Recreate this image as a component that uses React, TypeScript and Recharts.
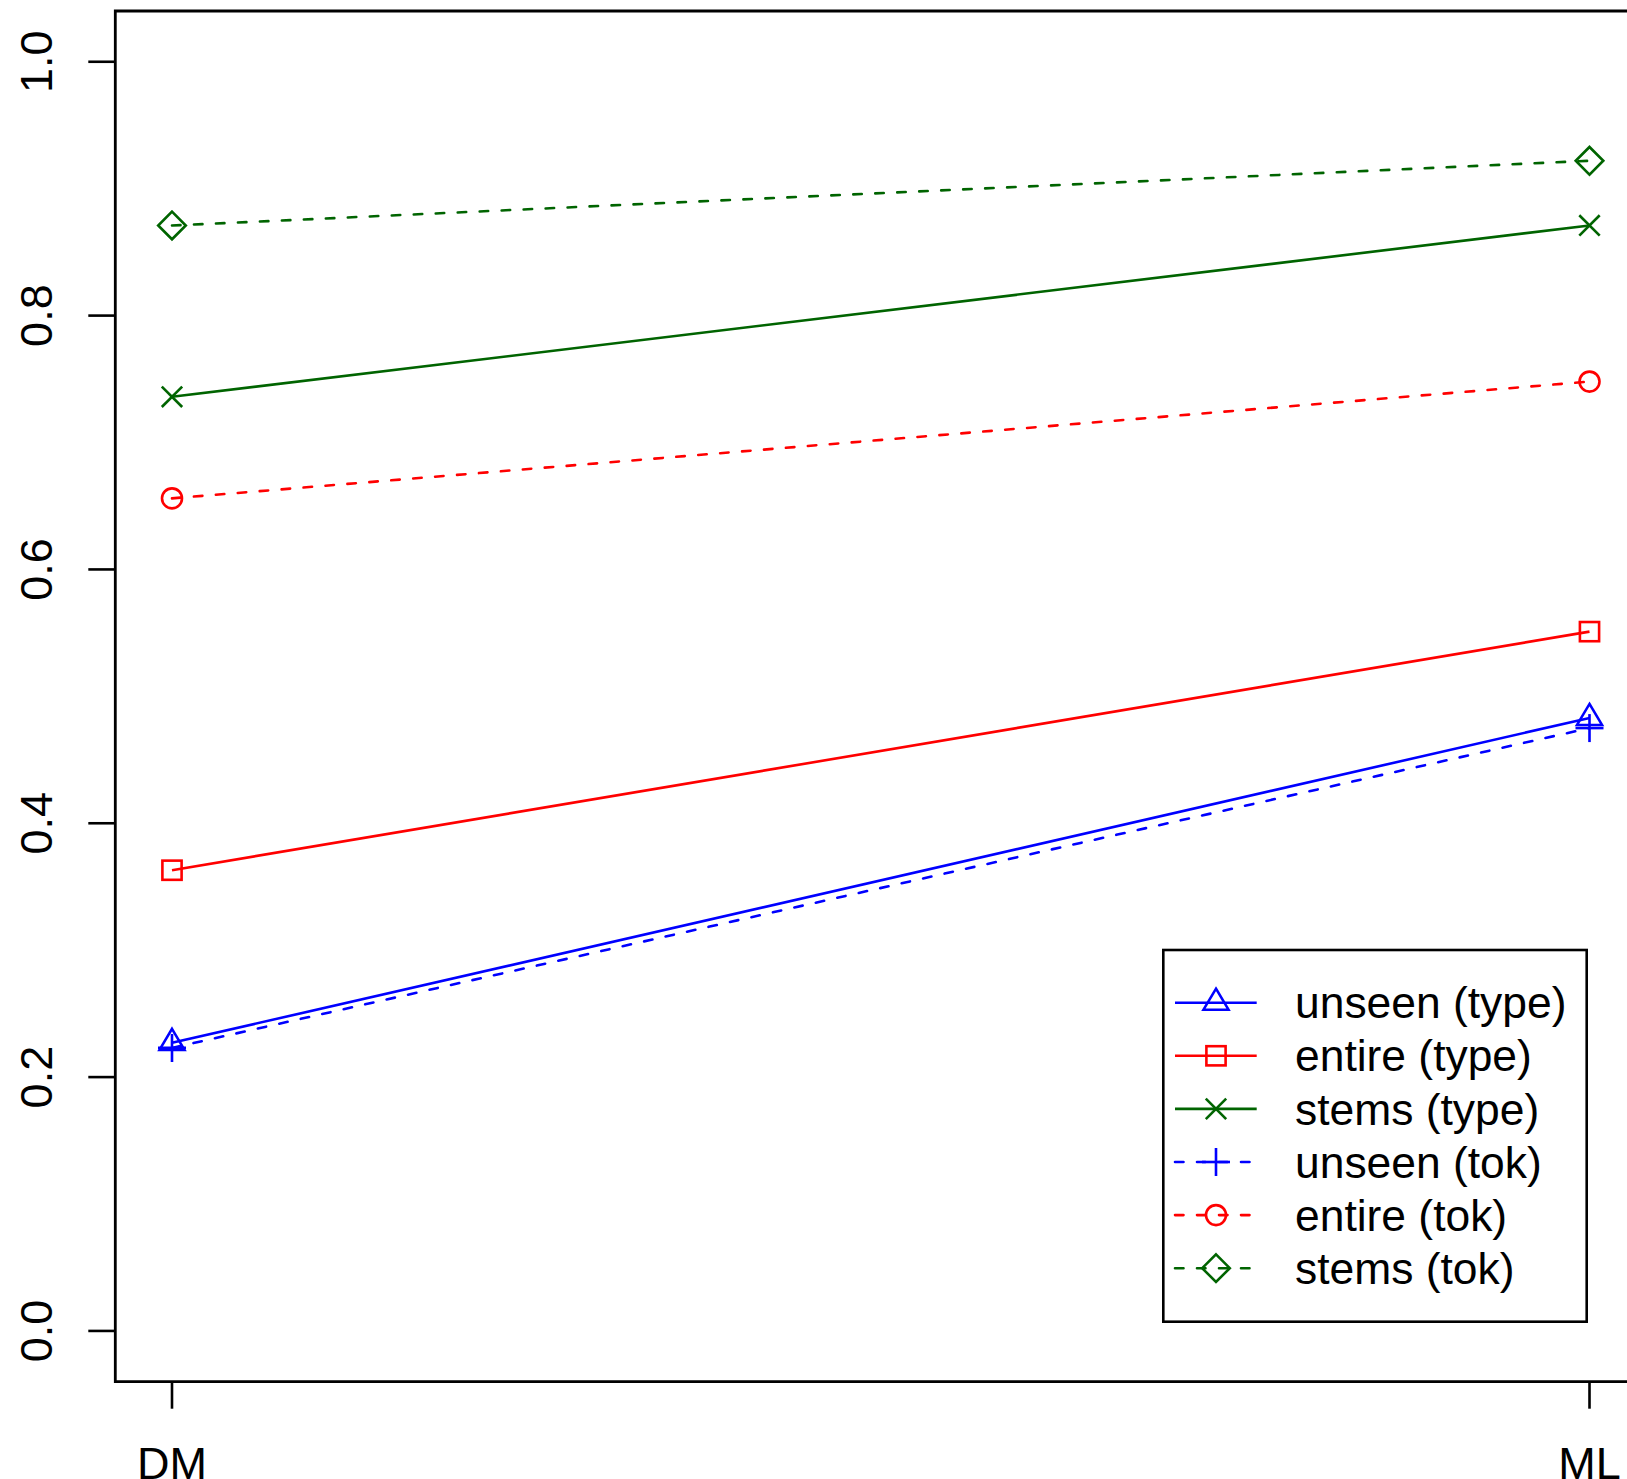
import React from "react";
import { LineChart, Line, XAxis, YAxis, ReferenceArea, Legend } from "recharts";

const categories = ["DM", "ML"];
const xPositions = [1, 2];
const yTicks = [0, 0.2, 0.4, 0.6, 0.8, 1.0];

const unseenType = [0.227, 0.483];
const entireType = [0.363, 0.551];
const stemsType = [0.736, 0.871];
const unseenTok = [0.223, 0.475];
const entireTok = [0.656, 0.748];
const stemsTok = [0.871, 0.922];

const seriesNames = [
  "unseen (type)",
  "entire (type)",
  "stems (type)",
  "unseen (tok)",
  "entire (tok)",
  "stems (tok)",
];
const seriesKeys = ["unseenType", "entireType", "stemsType", "unseenTok", "entireTok", "stemsTok"];
const seriesColors = ["#0000FF", "#FF0000", "#006400", "#0000FF", "#FF0000", "#006400"];
const seriesShapes = ["triangle", "square", "times", "plus", "circle", "diamond"];
const seriesDashed = [false, false, false, true, true, true];

const data = categories.map((c, i) => ({
  x: xPositions[i],
  name: c,
  unseenType: unseenType[i],
  entireType: entireType[i],
  stemsType: stemsType[i],
  unseenTok: unseenTok[i],
  entireTok: entireTok[i],
  stemsTok: stemsTok[i],
}));

const FONT = "'Liberation Sans', Arial, Helvetica, sans-serif";
const SW = 2.6;
const DASH = "8.5 13.5";

function Marker({ shape, cx, cy, color }: { shape: string; cx: number; cy: number; color: string }) {
  const common = { stroke: color, strokeWidth: SW, fill: "none" };
  switch (shape) {
    case "triangle":
      return <polygon {...common} points={`${cx},${cy - 14} ${cx + 12.5},${cy + 7} ${cx - 12.5},${cy + 7}`} />;
    case "square":
      return <rect {...common} x={cx - 9.6} y={cy - 9.6} width={19.2} height={19.2} />;
    case "times":
      return (
        <g {...common}>
          <line x1={cx - 10.2} y1={cy - 10.2} x2={cx + 10.2} y2={cy + 10.2} />
          <line x1={cx - 10.2} y1={cy + 10.2} x2={cx + 10.2} y2={cy - 10.2} />
        </g>
      );
    case "plus":
      return (
        <g {...common}>
          <line x1={cx - 14} y1={cy} x2={cx + 14} y2={cy} />
          <line x1={cx} y1={cy - 14} x2={cx} y2={cy + 14} />
        </g>
      );
    case "circle":
      return <circle {...common} cx={cx} cy={cy} r={10} />;
    case "diamond":
      return <polygon {...common} points={`${cx},${cy - 13.8} ${cx + 13.8},${cy} ${cx},${cy + 13.8} ${cx - 13.8},${cy}`} />;
    default:
      return null;
  }
}

const YTick = (props: any) => {
  const { x, y, payload } = props;
  return (
    <text
      x={x}
      y={y}
      transform={`rotate(-90 ${x} ${y})`}
      textAnchor="middle"
      fontFamily={FONT}
      fontSize={45}
      fill="#000"
    >
      {Number(payload.value).toFixed(1)}
    </text>
  );
};

const XTick = (props: any) => {
  const { x, y, payload } = props;
  const idx = xPositions.indexOf(payload.value);
  return (
    <text x={x} y={y} textAnchor="middle" fontFamily={FONT} fontSize={45} fill="#000">
      {categories[idx]}
    </text>
  );
};

const LegendBox = () => {
  const rowY = (i: number) => 55.7 + i * 53.1;
  return (
    <svg width={432} height={380} style={{ display: "block" }}>
      <rect x={3.3} y={3} width={423.4} height={371.7} fill="#fff" stroke="#000" strokeWidth={SW} />
      {seriesNames.map((name, i) => (
        <g key={name}>
          <line
            x1={15}
            x2={96.7}
            y1={rowY(i)}
            y2={rowY(i)}
            stroke={seriesColors[i]}
            strokeWidth={SW}
            strokeDasharray={seriesDashed[i] ? DASH : undefined}
            strokeLinecap={seriesDashed[i] ? "round" : "butt"}
          />
          <Marker shape={seriesShapes[i]} cx={56} cy={rowY(i)} color={seriesColors[i]} />
          <text x={135} y={rowY(i) + 15.6} fontFamily={FONT} fontSize={44.4} fill="#000">
            {name}
          </text>
        </g>
      ))}
    </svg>
  );
};

export default function App() {
  return (
    <div
      style={{
        position: "fixed",
        left: 0,
        top: 0,
        width: 1627,
        height: 1479,
        overflow: "hidden",
        background: "#fff",
      }}
    >
      <LineChart
        width={1700}
        height={1479}
        data={data}
        margin={{ top: 11, right: 53.8, bottom: 0, left: 0 }}
      >
        <XAxis
          type="number"
          dataKey="x"
          domain={[0.96, 2.04]}
          ticks={xPositions}
          allowDataOverflow
          height={97.3}
          axisLine={false}
          tickSize={27}
          tickMargin={70}
          tickLine={{ stroke: "#000", strokeWidth: SW }}
          tick={<XTick />}
          interval={0}
        />
        <YAxis
          type="number"
          domain={[-0.04, 1.04]}
          ticks={yTicks}
          allowDataOverflow
          width={115.3}
          axisLine={false}
          tickSize={27}
          tickMargin={36}
          tickLine={{ stroke: "#000", strokeWidth: SW }}
          tick={<YTick />}
          interval={0}
        />
        <ReferenceArea
          x1={0.96}
          x2={2.04}
          y1={-0.04}
          y2={1.04}
          fill="none"
          fillOpacity={0}
          stroke="#000"
          strokeWidth={2.8}
          ifOverflow="visible"
        />
        {seriesKeys.map((k, i) => (
          <Line
            key={k}
            dataKey={k}
            name={seriesNames[i]}
            type="linear"
            stroke={seriesColors[i]}
            strokeWidth={SW}
            strokeDasharray={seriesDashed[i] ? DASH : undefined}
            strokeLinecap={seriesDashed[i] ? "round" : "butt"}
            isAnimationActive={false}
            activeDot={false}
            dot={(p: any) => (
              <Marker key={`${k}-${p.index}`} shape={seriesShapes[i]} cx={p.cx} cy={p.cy} color={seriesColors[i]} />
            )}
          />
        ))}
        <Legend
          layout="horizontal"
          verticalAlign="middle"
          align="center"
          content={() => <LegendBox />}
          wrapperStyle={{ position: "absolute", left: 1160, top: 947, width: 432, height: 380 }}
        />
      </LineChart>
    </div>
  );
}
